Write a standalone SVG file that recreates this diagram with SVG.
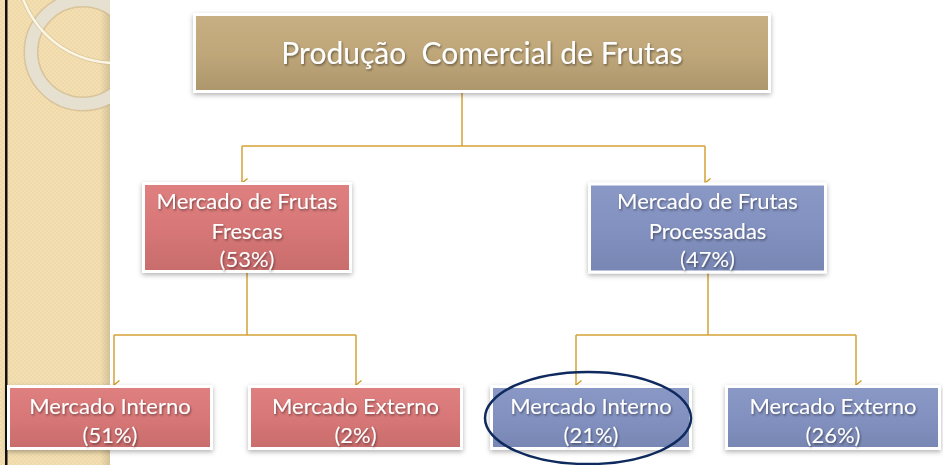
<svg xmlns="http://www.w3.org/2000/svg" width="943" height="465" viewBox="0 0 943 465">
<defs>
<linearGradient id="gTop" x1="0" y1="0" x2="0" y2="1">
<stop offset="0" stop-color="#c7af83"/><stop offset="0.5" stop-color="#bfa77a"/><stop offset="1" stop-color="#ad966c"/>
</linearGradient>
<linearGradient id="gRed" x1="0" y1="0" x2="0" y2="1">
<stop offset="0" stop-color="#df8080"/><stop offset="0.5" stop-color="#d87777"/><stop offset="1" stop-color="#c86c6c"/>
</linearGradient>
<linearGradient id="gBlue" x1="0" y1="0" x2="0" y2="1">
<stop offset="0" stop-color="#8a98c6"/><stop offset="0.5" stop-color="#8391c0"/><stop offset="1" stop-color="#7786b3"/>
</linearGradient>
<linearGradient id="gPanelShadow" x1="0" y1="0" x2="1" y2="0">
<stop offset="0" stop-color="#000" stop-opacity="0"/><stop offset="1" stop-color="#000" stop-opacity="0.12"/>
</linearGradient>
<pattern id="tex" width="4" height="4" patternUnits="userSpaceOnUse">
<rect width="4" height="4" fill="#f3dfb3"/><rect width="2" height="2" fill="#efd9a9"/><rect x="2" y="2" width="2" height="2" fill="#efd9a9"/>
</pattern>
<filter id="sh" x="-10%" y="-20%" width="120%" height="140%">
<feDropShadow dx="0" dy="2" stdDeviation="2.5" flood-color="#000" flood-opacity="0.3"/>
</filter>
<filter id="tsh" x="-10%" y="-30%" width="120%" height="160%">
<feDropShadow dx="1" dy="1.5" stdDeviation="1" flood-color="#000" flood-opacity="0.45"/>
</filter>
<marker id="arr" viewBox="0 0 10 10" refX="5" refY="9" markerWidth="10" markerHeight="10" markerUnits="userSpaceOnUse" orient="auto-start-reverse">
<path d="M0.5,3.5 L5,9 L9.5,3.5" fill="none" stroke="#d19a22" stroke-width="1.3"/>
</marker>
</defs>
<style>
.box{stroke:#ffffff;stroke-width:3;filter:url(#sh)}
.top{fill:url(#gTop)}
.red{fill:url(#gRed)}
.blue{fill:url(#gBlue)}
.t{font-family:Lato,"Open Sans","Liberation Sans",sans-serif;fill:#ffffff;text-anchor:middle;filter:url(#tsh);white-space:pre}
.t1{font-size:30px}
.t2{font-size:22px}
.conn{fill:none;stroke:#d4a234;stroke-width:1.5}
</style>
<rect width="943" height="465" fill="#ffffff"/>
<g id="panel">
<rect x="0" y="0" width="110" height="465" fill="url(#tex)"/>
<rect x="100" y="0" width="10" height="465" fill="url(#gPanelShadow)"/>
<rect x="5" y="0" width="2.5" height="465" fill="#111111"/>
<clipPath id="pc"><rect x="7.5" y="0" width="102.5" height="465"/></clipPath>
<g clip-path="url(#pc)">
<circle cx="83" cy="52" r="52" fill="none" stroke="#c9b48e" stroke-width="15" opacity="0.6"/>
<circle cx="83" cy="52" r="52" fill="none" stroke="#e6e0d0" stroke-width="12"/>
<circle cx="115" cy="-35" r="98" fill="none" stroke="#c9b48e" stroke-width="4" opacity="0.5"/>
<circle cx="115" cy="-35" r="98" fill="none" stroke="#fbf6e4" stroke-width="2.5"/>
</g>
</g>
<g id="connectors">
<path class="conn" d="M462,93 V146"/>
<path class="conn" d="M242,146 H705"/>
<path class="conn" d="M242,146 V183" marker-end="url(#arr)"/>
<path class="conn" d="M705,146 V183" marker-end="url(#arr)"/>
<path class="conn" d="M247,273 V335"/>
<path class="conn" d="M114,335 H356"/>
<path class="conn" d="M114,335 V385" marker-end="url(#arr)"/>
<path class="conn" d="M356,335 V385" marker-end="url(#arr)"/>
<path class="conn" d="M708,273 V335"/>
<path class="conn" d="M576,335 H856"/>
<path class="conn" d="M576,335 V385" marker-end="url(#arr)"/>
<path class="conn" d="M856,335 V385" marker-end="url(#arr)"/>
</g>
<g id="producao">
<rect class="box top" x="194.5" y="14.5" width="575" height="77"/>
<text class="t t1" x="482" y="64" xml:space="preserve">Produção  Comercial de Frutas</text>
</g>
<g id="frescas">
<rect class="box red" x="143.5" y="183.5" width="207" height="88"/>
<text class="t t2" x="247" y="209">Mercado de Frutas</text>
<text class="t t2" x="247" y="239">Frescas</text>
<text class="t t2" x="247" y="267">(53%)</text>
</g>
<g id="processadas">
<rect class="box blue" x="589.5" y="184" width="236" height="88"/>
<text class="t t2" x="707.5" y="209">Mercado de Frutas</text>
<text class="t t2" x="707.5" y="239">Processadas</text>
<text class="t t2" x="707.5" y="267">(47%)</text>
</g>
<g id="frescas-interno">
<rect class="box red" x="8.5" y="386.5" width="203" height="62"/>
<text class="t t2" x="110" y="414">Mercado Interno</text>
<text class="t t2" x="110" y="443">(51%)</text>
</g>
<g id="frescas-externo">
<rect class="box red" x="249.5" y="386.5" width="212" height="62"/>
<text class="t t2" x="355.5" y="414">Mercado Externo</text>
<text class="t t2" x="355.5" y="443">(2%)</text>
</g>
<g id="processadas-interno">
<rect class="box blue" x="491.5" y="386.5" width="199" height="62"/>
<text class="t t2" x="591" y="414">Mercado Interno</text>
<text class="t t2" x="591" y="443">(21%)</text>
</g>
<g id="processadas-externo">
<rect class="box blue" x="726.5" y="386.5" width="213" height="62"/>
<text class="t t2" x="833" y="414">Mercado Externo</text>
<text class="t t2" x="833" y="443">(26%)</text>
</g>
<g id="highlight">
<ellipse cx="588" cy="418" rx="103" ry="46" fill="none" stroke="#0f2a5e" stroke-width="2.5"/>
</g>
</svg>
